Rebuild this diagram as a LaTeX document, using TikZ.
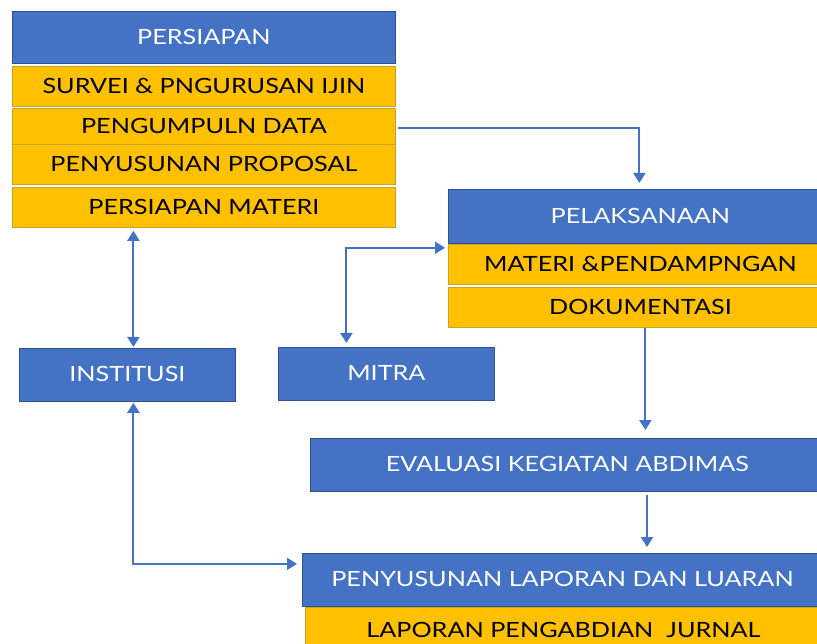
\documentclass[tikz,border=0pt]{standalone}
\usepackage{fontspec}
\setmainfont{Lato}[FakeStretch=1.2]
\usetikzlibrary{arrows.meta}
\definecolor{blu}{HTML}{4472C4}
\definecolor{bdr}{HTML}{2F528F}
\definecolor{yel}{HTML}{FFC000}
\definecolor{ybd}{HTML}{C9A227}
\tikzset{
  bluebox/.style={draw=bdr, line width=0.8pt, fill=blu, text=white, inner sep=0pt, anchor=north west, font=\fontsize{21}{24}\selectfont},
  yelbox/.style={draw=ybd, line width=0.8pt, fill=yel, text=black, inner sep=0pt, anchor=north west, font=\fontsize{21}{24}\selectfont},
  conn/.style={draw=blu, line width=2pt},
  tip/.tip={Triangle[width=12pt,length=10pt]}
}
\begin{document}
\begin{tikzpicture}[x=1pt,y=-1pt]
\useasboundingbox (0,0) rectangle (817,644);
% left stack
\node[bluebox, minimum width=383pt, minimum height=52pt] (prs) at (12,11) {\raisebox{2pt}{PERSIAPAN}};
\node[yelbox, minimum width=383pt, minimum height=40pt] (srv) at (12,66) {SURVEI \& PNGURUSAN IJIN};
\node[yelbox, minimum width=383pt, minimum height=36pt] (pd) at (12,108) {\raisebox{-3pt}{PENGUMPULN DATA}};
\node[yelbox, minimum width=383pt, minimum height=40pt] (pp) at (12,144) {PENYUSUNAN PROPOSAL};
\node[yelbox, minimum width=383pt, minimum height=40pt] (pm) at (12,187) {PERSIAPAN MATERI};
% right stack
\node[bluebox, minimum width=384pt, minimum height=54pt] (pel) at (448,189) {PELAKSANAAN};
\node[yelbox, minimum width=384pt, minimum height=40pt] (mat) at (448,244) {MATERI \&PENDAMPNGAN};
\node[yelbox, minimum width=384pt, minimum height=40pt] (dok) at (448,287) {DOKUMENTASI};
% middle row
\node[bluebox, minimum width=216pt, minimum height=53pt] (inst) at (19,348) {\raisebox{2pt}{INSTITUSI}};
\node[bluebox, minimum width=216pt, minimum height=53pt] (mit) at (278,347) {\raisebox{2pt}{MITRA}};
% lower
\node[bluebox, minimum width=514pt, minimum height=53pt] (eva) at (310,438) {\raisebox{2pt}{EVALUASI KEGIATAN ABDIMAS}};
\node[bluebox, minimum width=520pt, minimum height=53pt] (pld) at (302,553) {\raisebox{2pt}{PENYUSUNAN LAPORAN DAN LUARAN}};
\node[yelbox, minimum width=516pt, minimum height=46pt] (lap) at (305,607) {\raisebox{-2pt}{LAPORAN PENGABDIAN\ \ JURNAL}};
% connectors
\draw[conn, -tip, shorten <=2pt, shorten >=6pt] ([yshift=-2pt]pd.east) -| ([xshift=-1pt]pel.north);
\draw[conn, tip-tip, shorten <=1pt, shorten >=3pt] ([xshift=6pt]inst.north) -- ([xshift=6pt]inst.north |- pm.south);
\draw[conn, tip-tip, shorten <=4pt, shorten >=3pt] ([xshift=-40pt]mit.north) |- ([yshift=-4pt]pel.south west);
\draw[conn, -tip, shorten >=8pt] ([xshift=5pt]dok.south) -- ([xshift=5pt]dok.south |- eva.north);
\draw[conn, -tip, shorten <=3pt, shorten >=6pt] ([xshift=337pt]eva.south west) -- ([xshift=337pt]eva.south west |- pld.north);
\draw[conn, tip-tip, shorten <=1pt, shorten >=5pt] ([xshift=6pt]inst.south) |- ([yshift=16pt]pld.west);
\end{tikzpicture}
\end{document}
